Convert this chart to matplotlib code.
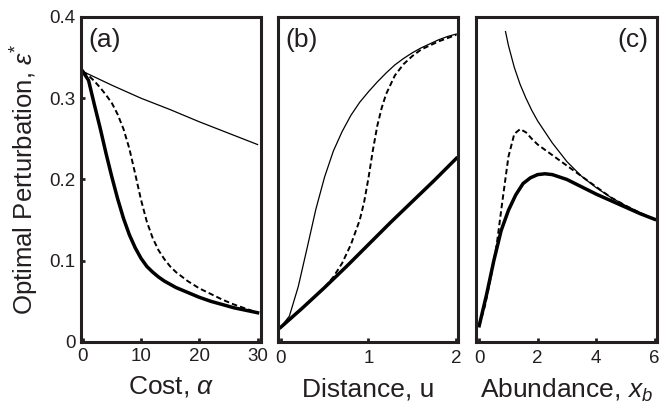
import matplotlib
matplotlib.use("Agg")
import matplotlib.pyplot as plt

plt.rcParams['font.family'] = ['Liberation Sans', 'DejaVu Sans']
plt.rcParams['mathtext.fontset'] = 'custom'
plt.rcParams['mathtext.rm'] = 'Liberation Sans'
plt.rcParams['mathtext.it'] = 'Liberation Sans:italic'

# panel (a): cost alpha
alpha_thin = [0, 5, 10, 15, 20, 25, 30]
eps_a_thin = [0.333, 0.316, 0.300, 0.286, 0.271, 0.257, 0.243]
alpha = [0, 1, 2, 3, 4, 5, 6, 7, 8, 9, 10, 11, 12, 13, 14, 15, 16, 18, 20, 22, 24, 26, 28, 30]
eps_a_dash = [0.333, 0.328, 0.321, 0.313, 0.304, 0.294, 0.280, 0.262, 0.238, 0.207, 0.175,
              0.148, 0.128, 0.113, 0.102, 0.093, 0.086, 0.075, 0.066, 0.059, 0.052, 0.046,
              0.041, 0.036]
eps_a_thick = [0.333, 0.322, 0.292, 0.263, 0.232, 0.203, 0.176, 0.152, 0.132, 0.116, 0.103,
               0.093, 0.086, 0.080, 0.075, 0.071, 0.067, 0.061, 0.055, 0.050, 0.046, 0.042,
               0.039, 0.036]

# panel (b): distance u
u_thin = [0, 0.1, 0.2, 0.3, 0.4, 0.5, 0.6, 0.7, 0.8, 0.9, 1.0, 1.1, 1.2, 1.3, 1.4, 1.5,
          1.6, 1.7, 1.8, 1.9, 2.0]
eps_b_thin = [0.018, 0.032, 0.068, 0.115, 0.163, 0.203, 0.235, 0.259, 0.279, 0.295, 0.308,
              0.320, 0.331, 0.341, 0.349, 0.356, 0.362, 0.367, 0.372, 0.376, 0.379]
u_dash = [0, 0.25, 0.5, 0.6, 0.7, 0.8, 0.9, 0.95, 1.0, 1.05, 1.1, 1.15, 1.2, 1.3, 1.4, 1.5,
          1.6, 1.8, 2.0]
eps_b_dash = [0.018, 0.042, 0.067, 0.080, 0.097, 0.120, 0.150, 0.172, 0.202, 0.236, 0.266,
              0.288, 0.305, 0.328, 0.342, 0.352, 0.360, 0.370, 0.378]
u_thick = [0, 0.25, 0.5, 0.75, 1.0, 1.25, 1.5, 1.75, 2.0]
eps_b_thick = [0.018, 0.042, 0.067, 0.093, 0.120, 0.147, 0.173, 0.199, 0.226]

# panel (c): abundance x_b
xb_thin = [0.9, 1.0, 1.2, 1.4, 1.6, 1.8, 2.0, 2.5, 3.0, 3.5, 4.0, 4.5, 5.0, 5.5, 6.0]
eps_c_thin = [0.382, 0.365, 0.338, 0.317, 0.300, 0.285, 0.272, 0.245, 0.222, 0.204, 0.190,
              0.178, 0.168, 0.159, 0.151]
xb_dash = [0, 0.2, 0.4, 0.6, 0.8, 1.0, 1.2, 1.4, 1.6, 1.8, 2.0, 2.5, 3.0, 3.5, 4.0, 4.5,
           5.0, 5.5, 6.0]
eps_c_dash = [0.020, 0.045, 0.080, 0.120, 0.175, 0.228, 0.256, 0.262, 0.258, 0.250, 0.243,
              0.230, 0.217, 0.204, 0.191, 0.178, 0.168, 0.159, 0.151]
xb_thick = [0, 0.25, 0.5, 0.75, 1.0, 1.25, 1.5, 1.75, 2.0, 2.25, 2.5, 3.0, 3.5, 4.0, 4.5,
            5.0, 5.5, 6.0]
eps_c_thick = [0.020, 0.058, 0.100, 0.137, 0.162, 0.181, 0.195, 0.202, 0.206, 0.207, 0.206,
               0.200, 0.191, 0.182, 0.174, 0.166, 0.158, 0.151]

ink = '#231f20'
fig = plt.figure(figsize=(6.72, 4.04), dpi=100)
axa = fig.add_axes([0.1205, 0.1535, 0.268, 0.8045])
axb = fig.add_axes([0.4137, 0.1535, 0.268, 0.8045])
axc = fig.add_axes([0.7083, 0.1535, 0.2693, 0.8045])

panels = [
    (axa, alpha_thin, eps_a_thin, alpha, eps_a_dash, alpha, eps_a_thick),
    (axb, u_thin, eps_b_thin, u_dash, eps_b_dash, u_thick, eps_b_thick),
    (axc, xb_thin, eps_c_thin, xb_dash, eps_c_dash, xb_thick, eps_c_thick),
]
for ax, x1, y1, x2, y2, x3, y3 in panels:
    ax.plot(x1, y1, color='black', lw=0.9)
    ax.plot(x2, y2, color='black', lw=1.4, dashes=(2.8, 1.6))
    ax.plot(x3, y3, color='black', lw=2.5)
    ax.set_ylim(0, 0.4)
    for s in ax.spines.values():
        s.set_linewidth(2.2)
        s.set_color(ink)
    ax.tick_params(direction='in', length=3, width=2, colors=ink, labelsize=13.5,
                   pad=6, left=True, labelleft=False)

axa.set_xlim(-0.3, 30.6)
axa.set_xticks([0, 10, 20, 30])
axa.set_yticks([0, 0.1, 0.2, 0.3, 0.4])
axa.set_yticklabels(['0', '0.1', '0.2', '0.3', '0.4'])
axa.tick_params(labelleft=True, pad=4)
axb.set_xlim(-0.03, 2.02)
axb.set_xticks([0, 1, 2])
axb.tick_params(left=False)
axc.set_xlim(-0.11, 6.08)
axc.set_xticks([0, 2, 4, 6])
axc.tick_params(left=False)

axa.set_xlabel(r'Cost, $\alpha$', fontsize=19, color=ink, labelpad=7)
axb.set_xlabel('Distance, u', fontsize=19, color=ink, labelpad=7)
axc.set_xlabel(r'Abundance, $x_b$', fontsize=19, color=ink, labelpad=7)
axa.set_ylabel(r'Optimal Perturbation, $\epsilon^{*}$', fontsize=18.5, color=ink, labelpad=6)

axa.text(0.04, 0.965, '(a)', transform=axa.transAxes, fontsize=19, color=ink, va='top', ha='left')
axb.text(0.04, 0.965, '(b)', transform=axb.transAxes, fontsize=19, color=ink, va='top', ha='left')
axc.text(0.95, 0.965, '(c)', transform=axc.transAxes, fontsize=19, color=ink, va='top', ha='right')

fig.savefig('out.png', dpi=100)
